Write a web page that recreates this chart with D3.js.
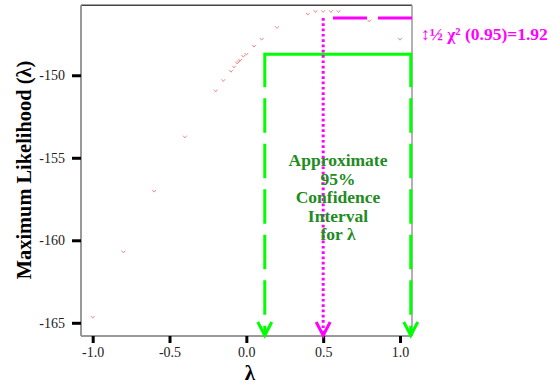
<!DOCTYPE html>
<html>
<head>
<meta charset="utf-8">
<script src="https://cdn.jsdelivr.net/npm/d3@7/dist/d3.min.js"></script>
<style>
  html, body { margin: 0; padding: 0; background: #fff; }
  svg { display: block; }
  .tick text { font-family: 'Liberation Serif', 'Times New Roman', serif !important; }
</style>
</head>
<body>
<svg id="chart" width="556" height="387"></svg>
<script>
// ---- data ----
const lambdas = [-1.0, -0.8, -0.6, -0.4, -0.2, -0.15, -0.1, -0.08, -0.06, -0.05, -0.04, -0.02, 0.0, 0.05, 0.1, 0.2, 0.4, 0.45, 0.5, 0.55, 0.6, 0.8, 1.0];
const logLik = [-164.65, -160.69, -157.01, -153.72, -150.93, -150.3, -149.74, -149.48, -149.24, -149.15, -149.07, -148.83, -148.71, -148.22, -147.80, -147.09, -146.28, -146.12, -146.12, -146.12, -146.12, -146.69, -147.80];
const xTicks = [-1.0, -0.5, 0.0, 0.5, 1.0];
const yTicks = [-150, -155, -160, -165];
const ciLower = 0.12;
const ciUpper = 1.07;
const ciLevel = -148.73;     // green horizontal line
const maxLambda = 0.5;
const maxLevel = -146.53;    // magenta line
const ciLabel = ["Approximate", "95%", "Confidence", "Interval", "for λ"];
const chiLabel = "↕½ χ² (0.95)=1.92";

// ---- layout ----
const svg = d3.select("#chart");
const L = 81, R = 412, T = 5.3, B = 336;
const x = d3.scaleLinear().domain([-1.076, 1.078]).range([L, R]);
const y = d3.scaleLinear().domain([-165.8, -145.76]).range([B, T]);
const serif = "'Liberation Serif', 'Times New Roman', serif";

// frame
svg.append("line").attr("x1", L).attr("x2", R).attr("y1", T).attr("y2", T)
  .attr("stroke", "#444").attr("stroke-width", 1.5);
svg.append("line").attr("x1", R).attr("x2", R).attr("y1", T).attr("y2", B)
  .attr("stroke", "#999").attr("stroke-width", 1.5);

// axes
const xAxis = svg.append("g").attr("transform", `translate(0,${B})`)
  .call(d3.axisBottom(x).tickValues(xTicks).tickFormat(d3.format(".1f")).tickSize(7).tickPadding(4));
const yAxis = svg.append("g").attr("transform", `translate(${L},0)`)
  .call(d3.axisLeft(y).tickValues(yTicks).tickFormat(d => d).tickSize(9).tickPadding(7));
[xAxis, yAxis].forEach(g => {
  g.attr("font-family", serif).attr("font-size", 14);
  g.select(".domain").attr("stroke", "#999").attr("stroke-width", 2);
  g.selectAll(".tick line").attr("stroke", "#000").attr("stroke-width", 3);
  g.selectAll(".tick text").style("font-family", serif).attr("font-size", 14).attr("fill", "#222");
});
xAxis.select(".domain").attr("d", `M${L},0H${R}`);
yAxis.select(".domain").attr("d", `M0,${T}V${B}`);
yAxis.selectAll(".tick text").text(d => "-" + Math.abs(d));
xAxis.selectAll(".tick text").text(d => (d < 0 ? "-" : "") + Math.abs(d).toFixed(1));

// axis titles
svg.append("text").attr("x", 250).attr("y", 380).attr("text-anchor", "middle")
  .attr("font-family", serif).attr("font-weight", "bold").attr("font-size", 21).text("λ");
svg.append("text").attr("transform", `translate(31,170) rotate(-90)`).attr("text-anchor", "middle")
  .attr("font-family", serif).attr("font-weight", "bold").attr("font-size", 20.4)
  .text("Maximum Likelihood (λ)");

// points
svg.append("g").selectAll("path").data(lambdas.map((l, i) => [l, logLik[i]])).join("path")
  .attr("transform", d => `translate(${x(d[0])},${y(d[1])})`)
  .attr("d", "M-1.8,-1 L0,1.2 L1.8,-1")
  .attr("fill", "none").attr("stroke", "#f08c8c").attr("stroke-width", 1);

// arrowhead helper
function head(px, color) {
  svg.append("path")
    .attr("d", `M${px - 7},${B - 14} L${px},${B - 0.5} L${px + 7},${B - 14}`)
    .attr("fill", "none").attr("stroke", color).attr("stroke-width", 3)
    .attr("stroke-linejoin", "miter");
}

// green CI box
const green = "#00ff00";
svg.append("line").attr("x1", x(ciLower)).attr("x2", x(ciUpper)).attr("y1", y(ciLevel)).attr("y2", y(ciLevel))
  .attr("stroke", green).attr("stroke-width", 3);
[ciLower, ciUpper].forEach(v => {
  svg.append("line").attr("x1", x(v)).attr("x2", x(v)).attr("y1", y(ciLevel) - 1.5).attr("y2", B)
    .attr("stroke", green).attr("stroke-width", 3).attr("stroke-dasharray", "34.5,11");
  head(x(v), green);
});

// magenta
const magenta = "#ff00ff";
svg.append("line").attr("x1", x(maxLambda)).attr("x2", x(maxLambda)).attr("y1", y(maxLevel)).attr("y2", B - 2)
  .attr("stroke", magenta).attr("stroke-width", 3).attr("stroke-dasharray", "2.7,2.6");
head(x(maxLambda), magenta);
svg.append("line").attr("x1", R).attr("x2", x(maxLambda)).attr("y1", y(maxLevel)).attr("y2", y(maxLevel))
  .attr("stroke", magenta).attr("stroke-width", 3).attr("stroke-dasharray", "34,11");

// texts
svg.append("text").attr("x", 421).attr("y", 39.5)
  .attr("font-family", serif).attr("font-weight", "bold").attr("font-size", 17.5).attr("fill", magenta)
  .text(chiLabel);

const ct = svg.append("text").attr("text-anchor", "middle")
  .attr("font-family", serif).attr("font-weight", "bold").attr("font-size", 17.5).attr("fill", "#228b22");
ciLabel.forEach((s, i) => {
  ct.append("tspan").attr("x", 338).attr("y", 166 + i * 18.5).text(s);
});
</script>
</body>
</html>
